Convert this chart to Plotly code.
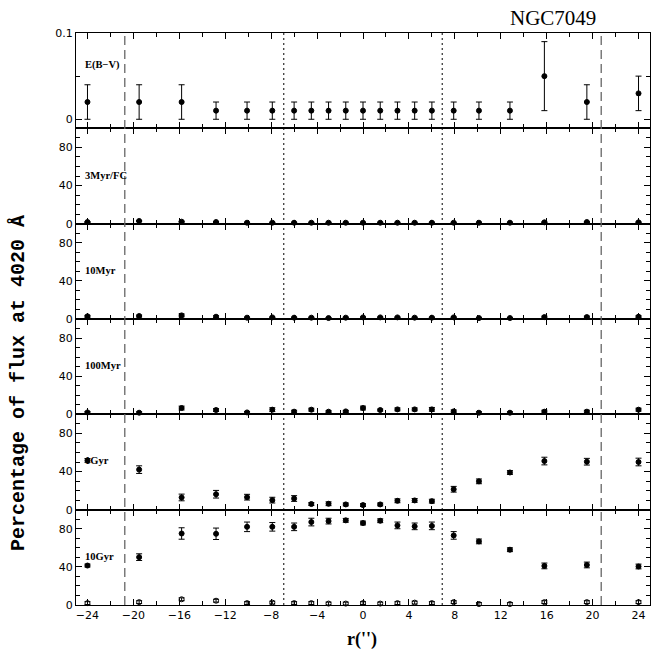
import plotly.graph_objects as go
from plotly.subplots import make_subplots

# ---- data ----
r = [-24, -19.5, -15.8, -12.8, -10.1, -7.9, -6, -4.5, -3, -1.5, 0, 1.5, 3, 4.5, 6, 7.9, 10.1, 12.8, 15.8, 19.5, 24]

ebv = [0.02, 0.02, 0.02, 0.01, 0.01, 0.01, 0.01, 0.01, 0.01, 0.01, 0.01, 0.01, 0.01, 0.01, 0.01, 0.01, 0.01, 0.01, 0.05, 0.02, 0.03]
ebv_err = [0.02, 0.02, 0.02, 0.01, 0.01, 0.01, 0.01, 0.01, 0.01, 0.01, 0.01, 0.01, 0.01, 0.01, 0.01, 0.01, 0.01, 0.01, 0.04, 0.02, 0.02]

myr3 = [1.7, 2.8, 2.1, 1.7, 1, 1, 1, 1, 1, 1, 1, 1, 1, 1, 1, 1, 1, 1, 1.4, 1.7, 1.4]
myr3_err = [0.5] * 21

myr10 = [2.8, 3.1, 3.8, 2.4, 1.4, 1.7, 1.4, 1.4, 1, 1.4, 1.7, 1.7, 1.7, 1.4, 1.4, 1.7, 1, 1, 2, 2, 2.4]
myr10_err = [1, 1, 1.5, 1, 0.5, 0.5, 0.5, 0.5, 0.5, 0.5, 0.5, 0.5, 0.5, 0.5, 0.5, 0.5, 0.5, 0.5, 1, 1, 1]

myr100 = [2, 1.7, 6.6, 4.5, 2, 4.9, 2.8, 4.9, 2.8, 3.1, 6.6, 4.5, 5.2, 5.2, 5.2, 3.1, 1.7, 1.7, 2.8, 2.8, 4.9]
myr100_err = [1, 1, 2, 1.5, 1, 2, 1.5, 1.5, 1, 1, 2, 1, 1.5, 1.5, 2, 1.5, 1, 1, 1.5, 1.5, 1.5]

gyr1 = [51.7, 42, 12.8, 16.2, 13.1, 10, 11.7, 5.9, 6.2, 5.5, 4.8, 5.5, 9.3, 9.7, 8.9, 21.4, 29.7, 39, 51, 50.3, 50]
gyr1_err = [2, 4, 3.5, 4, 3, 3, 3, 1.5, 2, 1.5, 1.5, 1.5, 2, 2, 2, 3, 2.5, 2, 4, 3.5, 4]

gyr10 = [41.4, 50.2, 75, 74.7, 82, 82, 82, 87, 88, 88.8, 86, 88.4, 83.5, 82.5, 83, 73, 66.7, 58, 41, 42, 40.4]
gyr10_err = [1.5, 3.5, 6, 6, 5, 4.5, 4, 4, 3, 2, 2, 2, 3.5, 3.5, 4, 4, 2.5, 2, 3, 3, 2.5]

gyr10_open = [2, 3, 6, 4.5, 2, 2.5, 2, 2, 1.5, 1.5, 2, 1.5, 2, 2.5, 2, 3, 1, 1, 3, 3, 3]
gyr10_open_err = [1.5] * 21

panel_labels = ["E(B\u2212V)", "3Myr/FC", "10Myr", "100Myr", "1Gyr", "10Gyr"]
dashed_x = [-20.75, 20.75]
dotted_x = [-6.9, 6.9]

# ---- figure ----
fig = make_subplots(rows=6, cols=1, shared_xaxes=True, vertical_spacing=0)

def add_series(row, y, err, symbol="circle"):
    fig.add_trace(go.Scatter(
        x=r, y=y, mode="markers",
        marker=dict(symbol=symbol, size=5, color="black",
                    line=dict(color="black", width=1)),
        error_y=dict(type="data", array=err, visible=True, color="black",
                     thickness=1, width=3),
        showlegend=False, cliponaxis=False), row=row, col=1)

add_series(1, ebv, ebv_err)
add_series(2, myr3, myr3_err)
add_series(3, myr10, myr10_err)
add_series(4, myr100, myr100_err)
add_series(5, gyr1, gyr1_err)
add_series(6, gyr10, gyr10_err)
add_series(6, gyr10_open, gyr10_open_err, symbol="circle-open")

tickfont = dict(family="DejaVu Sans", size=11, color="black")

for i in range(1, 7):
    fig.update_xaxes(row=i, col=1, range=[-25, 25], tick0=0, dtick=4,
                     ticks="inside", ticklen=6, tickwidth=1, tickcolor="black",
                     mirror="allticks", showline=True, linecolor="black", linewidth=1,
                     showgrid=False, zeroline=False,
                     minor=dict(dtick=2, tick0=0, ticks="inside", ticklen=4,
                                tickcolor="black", showgrid=False),
                     tickfont=tickfont, showticklabels=(i == 6))
    if i == 1:
        fig.update_yaxes(row=i, col=1, range=[-0.0105, 0.1], tickvals=[0, 0.1],
                         ticktext=["0", "0.1"],
                         minor=dict(tickvals=[0.05], ticks="inside", ticklen=4,
                                    tickcolor="black", showgrid=False))
    else:
        fig.update_yaxes(row=i, col=1, range=[0, 100], tickvals=[0, 40, 80],
                         minor=dict(dtick=10, tick0=0, ticks="inside", ticklen=4,
                                    tickcolor="black", showgrid=False))
    fig.update_yaxes(row=i, col=1, ticks="inside", ticklen=6, tickwidth=1,
                     tickcolor="black", mirror="allticks", showline=True,
                     linecolor="black", linewidth=1, showgrid=False,
                     zeroline=False, tickfont=tickfont)

# vertical reference lines across all panels
for xv in dashed_x:
    fig.add_shape(type="line", xref="x", yref="paper", x0=xv, x1=xv, y0=0, y1=1,
                  line=dict(color="#666666", width=1.3, dash="9px,5px"))
for xv in dotted_x:
    fig.add_shape(type="line", xref="x", yref="paper", x0=xv, x1=xv, y0=0, y1=1,
                  line=dict(color="black", width=1, dash="2px,3px"))

# panel labels
label_y = [0.063, 51, 51, 51, 52, 51]
for i, (lab, ly) in enumerate(zip(panel_labels, label_y), start=1):
    yref = "y" if i == 1 else f"y{i}"
    fig.add_annotation(text=f"<b>{lab}</b>", xref="x domain", yref=yref,
                       x=0.012, y=ly, xanchor="left", yanchor="middle",
                       showarrow=False,
                       font=dict(family="Liberation Serif", size=10.5, color="black"))

# titles
fig.add_annotation(text="NGC7049", xref="paper", yref="paper", x=0.831, y=1.026,
                   xanchor="center", yanchor="middle", showarrow=False,
                   font=dict(family="Liberation Serif", size=21, color="black"))
fig.add_annotation(text="<b>Percentage of flux at 4020 \u00c5</b>", xref="paper",
                   yref="paper", x=-0.101, y=0.388, textangle=-90,
                   xanchor="center", yanchor="middle", showarrow=False,
                   font=dict(family="Liberation Mono", size=20, color="black"))
fig.add_annotation(text="<b>r('')</b>", xref="paper", yref="paper", x=0.498, y=-0.061,
                   xanchor="center", yanchor="middle", showarrow=False,
                   font=dict(family="Liberation Serif", size=18, color="black"))

fig.update_layout(width=660, height=656, margin=dict(l=76, r=10, t=33, b=51),
                  plot_bgcolor="white", paper_bgcolor="white", showlegend=False)

fig.write_html("out.html")
